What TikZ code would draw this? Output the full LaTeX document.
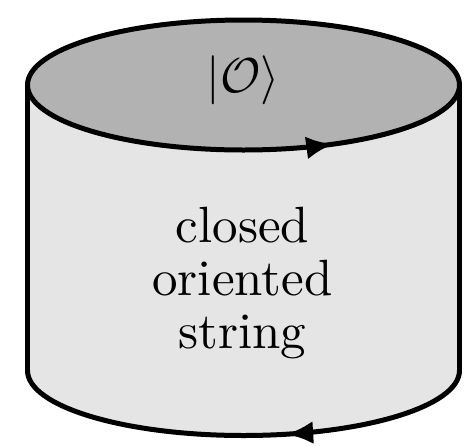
\documentclass[tikz,border=0pt]{standalone}
\usetikzlibrary{arrows.meta,decorations.markings}
\begin{document}
\begin{tikzpicture}[x=1pt,y=-1pt,
  rim/.style={line width=5pt, line cap=round, line join=round},
  flowtip/.style={postaction={decorate},
    decoration={markings,mark=at position #1 with {\arrow{Latex[length=27pt,width=23pt]}}}},
  txtstyle/.style={font=\fontsize{10}{10.4}\selectfont, align=center, inner sep=0pt}]
\useasboundingbox (0,0) rectangle (468,445);
% cylinder geometry
\def\cx{243.5}
\def\ra{216}
\def\rb{65}
\def\ty{85}
\def\by{370.5}
\coordinate (tl) at (\cx-\ra,\ty);
\coordinate (tr) at (\cx+\ra,\ty);
\coordinate (bl) at (\cx-\ra,\by);
\coordinate (br) at (\cx+\ra,\by);
% side surface
\fill[black!10] (tl) -- (bl) arc[start angle=180,end angle=0,x radius=\ra,y radius=\rb]
  -- (tr) -- cycle;
% top lid
\fill[black!30] (\cx,\ty) ellipse[x radius=\ra,y radius=\rb];
% outline
\draw[rim] (tl) -- (bl);
\draw[rim] (tr) -- (br);
\draw[rim,flowtip=0.41] (br) arc[start angle=0,end angle=180,x radius=\ra,y radius=\rb];
\draw[rim] (tl) arc[start angle=180,end angle=360,x radius=\ra,y radius=\rb];
\draw[rim,flowtip=0.69] (tl) arc[start angle=180,end angle=0,x radius=\ra,y radius=\rb];
% labels
\node[txtstyle,scale=4.9] (ket) at (243.5,80) {$|\mathcal{O}\rangle$};
\node[txtstyle,scale=5.1] (desc) at (242.5,283) {closed\\oriented\\string};
\end{tikzpicture}
\end{document}
